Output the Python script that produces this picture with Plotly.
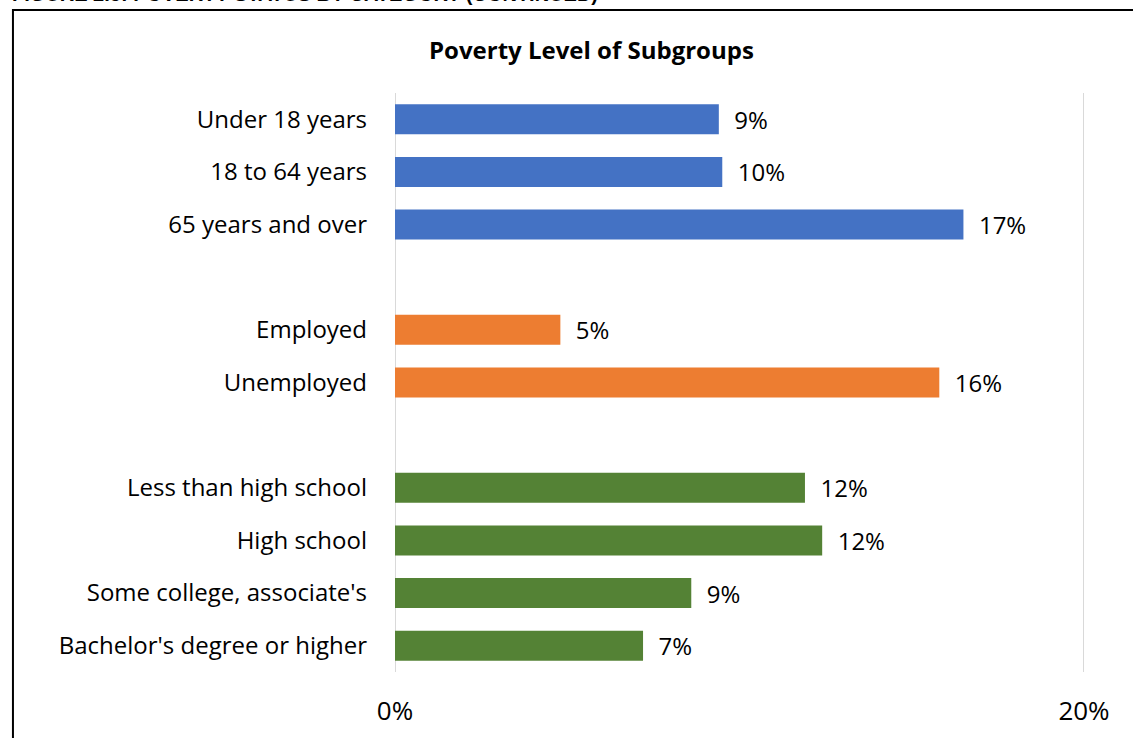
import plotly.graph_objects as go

# Poverty rate by subgroup (share of group below poverty line)
categories = [
    "Under 18 years", "18 to 64 years", "65 years and over", "",
    "Employed", "Unemployed", " ",
    "Less than high school", "High school", "Some college, associate's",
    "Bachelor's degree or higher",
]
age_labels = ["Under 18 years", "18 to 64 years", "65 years and over"]
age_values = [0.094, 0.095, 0.165]
emp_labels = ["Employed", "Unemployed"]
emp_values = [0.048, 0.158]
edu_labels = ["Less than high school", "High school", "Some college, associate's",
              "Bachelor's degree or higher"]
edu_values = [0.119, 0.124, 0.086, 0.072]

x_ticks = [0, 0.2]
x_tick_text = ["0%", "20%"]

FONT = "Open Sans"
COLORS = {"age": "#4472C4", "emp": "#ED7D31", "edu": "#548235"}

fig = go.Figure()
for key, labels, values in [("age", age_labels, age_values),
                            ("emp", emp_labels, emp_values),
                            ("edu", edu_labels, edu_values)]:
    fig.add_trace(go.Bar(
        y=labels, x=values, orientation="h",
        marker=dict(color=COLORS[key], line=dict(width=0)),
        width=0.57,
        texttemplate="  %{x:.0%}", textposition="outside",
        constraintext="none",
        textfont=dict(family=FONT, size=24, color="#000000"),
        cliponaxis=False, showlegend=False,
    ))

# vertical gridlines at the two axis ticks
grid_shapes = [dict(type="line", xref="x", yref="paper", x0=v, x1=v, y0=0, y1=1,
                    line=dict(color="#D9D9D9", width=2), layer="below")
               for v in x_ticks]

frame = dict(type="rect", xref="paper", yref="paper",
             x0=-0.5545, x1=1.5, y0=-0.3, y1=1.1434,
             line=dict(color="#000000", width=2), fillcolor="rgba(0,0,0,0)",
             layer="below")

fig.update_layout(
    width=1133, height=738,
    margin=dict(l=395, r=49, t=93, b=66, autoexpand=False),
    paper_bgcolor="white", plot_bgcolor="white",
    barmode="overlay",
    font=dict(family=FONT, size=24, color="#000000"),
    title=dict(text="<b>Poverty Level of Subgroups</b>", x=0.522, xanchor="center",
               y=0.932, yanchor="middle",
               font=dict(family=FONT, size=24, color="#000000")),
    xaxis=dict(range=[0, 0.2], tickvals=x_ticks, ticktext=x_tick_text,
               automargin=False,
               showgrid=False, zeroline=False, showline=False, ticks="",
               ticklabelstandoff=21, tickfont=dict(family=FONT, size=26)),
    yaxis=dict(categoryorder="array", categoryarray=categories,
               range=[10.5, -0.5], autorange=False, automargin=False,
               showgrid=False, zeroline=False, showline=False, ticks="",
               ticklabelstandoff=27, tickfont=dict(family=FONT, size=24)),
    shapes=grid_shapes + [frame],
    annotations=[dict(text="<b>FIGURE 2.5: POVERTY STATUS BY CATEGORY (CONTINUED)</b>",
                      xref="paper", yref="paper", x=-0.559, y=1.1485,
                      xanchor="left", yanchor="bottom", showarrow=False,
                      font=dict(family="Liberation Sans", size=20, color="#000000"))],
)

fig.write_html("out.html")
